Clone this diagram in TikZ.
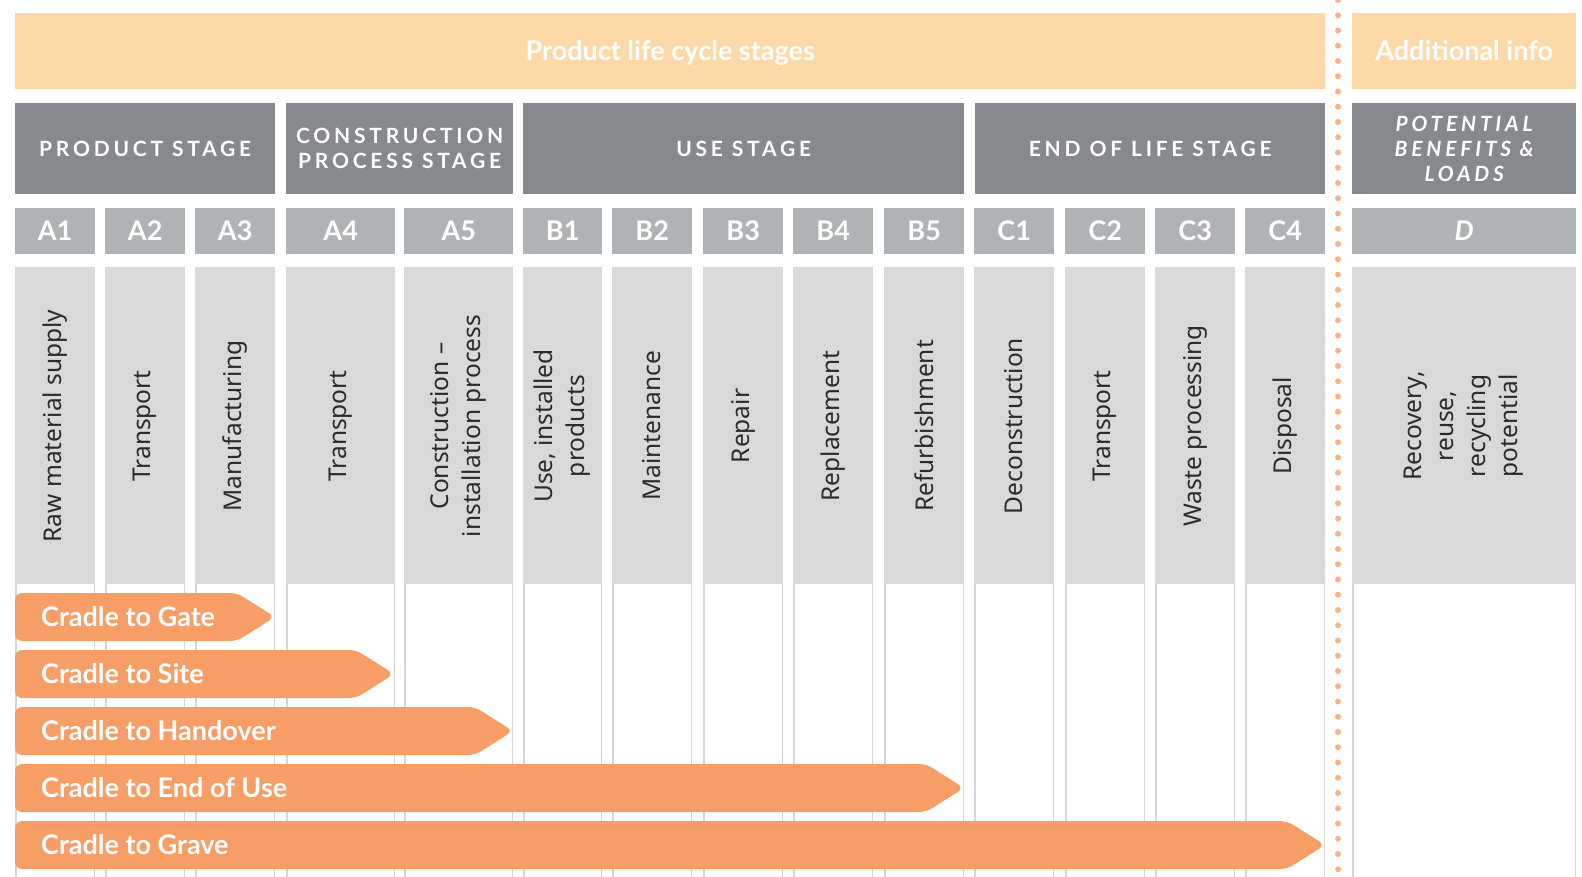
\documentclass[tikz,border=0pt]{standalone}
\usepackage{fontspec}
\setmainfont{Noto Sans}
\newfontfamily\latofont{Lato}
\newfontfamily\capsfont[LetterSpace=18]{Lato}
\usetikzlibrary{positioning}
\definecolor{peach}{HTML}{FDD9A8}
\definecolor{stagegrey}{HTML}{86898D}
\definecolor{codegrey}{HTML}{AFB3B5}
\definecolor{lightgrey}{HTML}{D8DADA}
\definecolor{linegrey}{HTML}{D6D6D6}
\definecolor{scopeorange}{HTML}{F79D66}
\definecolor{dotorange}{HTML}{F9B38A}
\definecolor{labeltext}{HTML}{2B2B2B}

\begin{document}
\begin{tikzpicture}[x=1pt, y=-1pt,
  every node/.style={inner sep=0pt},
  band/.style={fill=peach, text=white, anchor=north west, minimum height=76pt, text height=19pt, text depth=0pt, font=\latofont\bfseries\fontsize{27}{30}\selectfont},
  stagebox/.style={fill=stagegrey, text=white, anchor=north west, minimum height=91pt, align=center, font=\capsfont\bfseries\fontsize{21}{25}\selectfont},
  codebox/.style={fill=codegrey, text=white, anchor=north west, minimum height=46pt, text height=19pt, text depth=0pt, font=\latofont\bfseries\fontsize{27}{30}\selectfont},
  collabel/.style={rotate=90, align=center, text=labeltext, font=\fontsize{24.5}{32}\selectfont},
  colline/.style={draw=linegrey, line width=1.5pt, fill=white},
  scopearrow/.style={fill=scopeorange, rounded corners=7pt},
  scopetext/.style={anchor=west, text=white, text height=19pt, text depth=0pt, font=\latofont\bfseries\fontsize{27}{30}\selectfont},
  dotline/.style={draw=dotorange, line width=6pt, line cap=round, dash pattern=on 0pt off 15.25pt}]
\useasboundingbox (0,0) rectangle (1582,876);
% top bands %
\node[band, minimum width=1310pt] (plc) at (15,13) {Product life cycle stages};
\node[band, minimum width=224pt] (info) at (1352,13) {Additional info};
% stage headers %
\foreach \xa/\xb/\nm/\txt in {15/275/prod/PRODUCT STAGE, 286/513/cons/{CONSTRUCTION\\PROCESS STAGE}, 523/964/use/USE STAGE, 975/1325/eol/END OF LIFE STAGE}
  \node[stagebox, minimum width={(\xb-\xa)*1pt}] (\nm) at (\xa,103) {\txt};
\node[stagebox, minimum width=224pt, font=\capsfont\bfseries\itshape\fontsize{21}{25}\selectfont] (pot) at (1352,103) {POTENTIAL\\BENEFITS \&\\LOADS};
% columns %
\foreach \xa/\xb/\cd/\shown/\txt in {15/95/A1/A1/Raw material supply, 105/185/A2/A2/Transport, 195/275/A3/A3/Manufacturing, 286/395/A4/A4/Transport, 404/513/A5/A5/{Construction –\\installation process}, 523/602/B1/B1/{Use, installed\\products}, 612/692/B2/B2/Maintenance, 703/783/B3/B3/Repair, 793/873/B4/B4/Replacement, 884/964/B5/B5/Refurbishment, 974/1054/C1/C1/Deconstruction, 1065/1145/C2/C2/Transport, 1155/1235/C3/C3/Waste processing, 1245/1325/C4/C4/Disposal, 1352/1576/D/\textit{D}/{Recovery,\\reuse,\\recycling\\potential}} {
  \draw[colline] (\xa+.75,268) rectangle (\xb-.75,890);
  \fill[lightgrey] (\xa,268) rectangle (\xb,584);
  \node[codebox, minimum width={(\xb-\xa)*1pt}] (code\cd) at (\xa,208) {\shown};
  \node[collabel] (lbl\cd) at ({(\xa+\xb)/2},426) {\txt};
}
% separator %
\draw[dotline] (1338,0) -- (1338,890);
% scope arrows %
\foreach \txt/\tip [count=\i from 0] in {Cradle to Gate/275, Cradle to Site/394, Cradle to Handover/513, Cradle to End of Use/964, Cradle to Grave/1325} {
  \pgfmathsetmacro\yt{593+57*\i}
  \fill[scopearrow] (15,\yt) -- (\tip-38,\yt) -- (\tip,\yt+24) -- (\tip-38,\yt+48) -- (15,\yt+48) -- cycle;
  \node[scopetext] (cr\i) at (41,\yt+24) {\txt};
}
\end{tikzpicture}
\end{document}
